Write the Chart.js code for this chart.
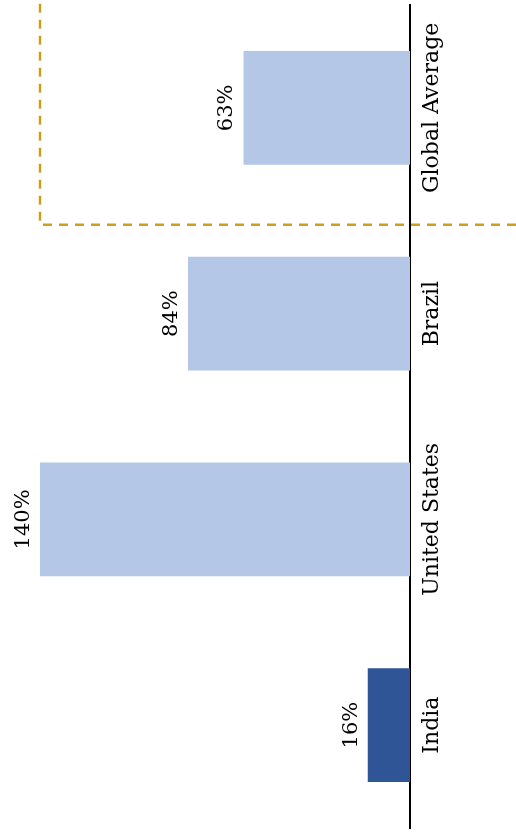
<!DOCTYPE html>
<html>
<head>
<meta charset="utf-8">
<script src="https://cdn.jsdelivr.net/npm/chart.js@4"></script>
<style>
  html, body { margin: 0; padding: 0; background: #fff; overflow: hidden; }
  #wrap {
    position: absolute; left: 0; top: 0;
    width: 836px; height: 516px;
    transform-origin: 0 0;
    transform: translate(0, 836px) rotate(-90deg);
  }
</style>
</head>
<body>
<div id="wrap"><canvas id="grafico" width="836" height="516"></canvas></div>
<script>
const paises = ['India', 'United States', 'Brazil', 'Global Average'];
const porcentajes = [16, 140, 84, 63];
const colores = ['#2f5597', '#b4c7e7', '#b4c7e7', '#b4c7e7'];
const valorMax = 140;

const familia = '"DejaVu Serif", serif';

// etiquetas con el porcentaje encima de cada barra
const etiquetas = {
  id: 'etiquetas',
  afterDatasetsDraw(chart) {
    const c = chart.ctx;
    const meta = chart.getDatasetMeta(0);
    c.save();
    c.font = '21px ' + familia;
    c.fillStyle = '#000';
    c.textAlign = 'center';
    c.textBaseline = 'bottom';
    meta.data.forEach((bar, i) => {
      c.fillText(porcentajes[i] + '%', bar.x, bar.y - 6);
    });
    c.restore();
  }
};

// recuadro punteado alrededor del promedio global
const recuadro = {
  id: 'recuadro',
  beforeDraw(chart) {
    const c = chart.ctx;
    const x = chart.scales.x;
    const y = chart.scales.y;
    const izq = x.getPixelForValue(2.5) - 14;
    const arriba = y.getPixelForValue(valorMax);
    c.save();
    c.strokeStyle = '#cc9f1e';
    c.lineWidth = 2.5;
    c.setLineDash([9, 7]);
    c.beginPath();
    c.moveTo(izq, chart.height);
    c.lineTo(izq, arriba);
    c.lineTo(chart.width, arriba);
    c.stroke();
    c.restore();
  }
};

new Chart(document.getElementById('grafico'), {
  type: 'bar',
  data: {
    labels: paises,
    datasets: [{
      data: porcentajes,
      backgroundColor: colores,
      barPercentage: 0.553,
      categoryPercentage: 1
    }]
  },
  options: {
    responsive: false,
    animation: false,
    layout: { padding: { left: 8, right: 5, top: 40, bottom: 0 } },
    plugins: { legend: { display: false }, tooltip: { enabled: false } },
    scales: {
      x: {
        grid: { display: false },
        border: { color: '#000', width: 2 },
        ticks: { color: '#000', font: { family: familia, size: 22 }, padding: 1, maxRotation: 0 },
        afterFit(scale) { scale.height = 106; }
      },
      y: { display: false, min: 0, max: valorMax }
    }
  },
  plugins: [etiquetas, recuadro]
});
</script>
</body>
</html>
